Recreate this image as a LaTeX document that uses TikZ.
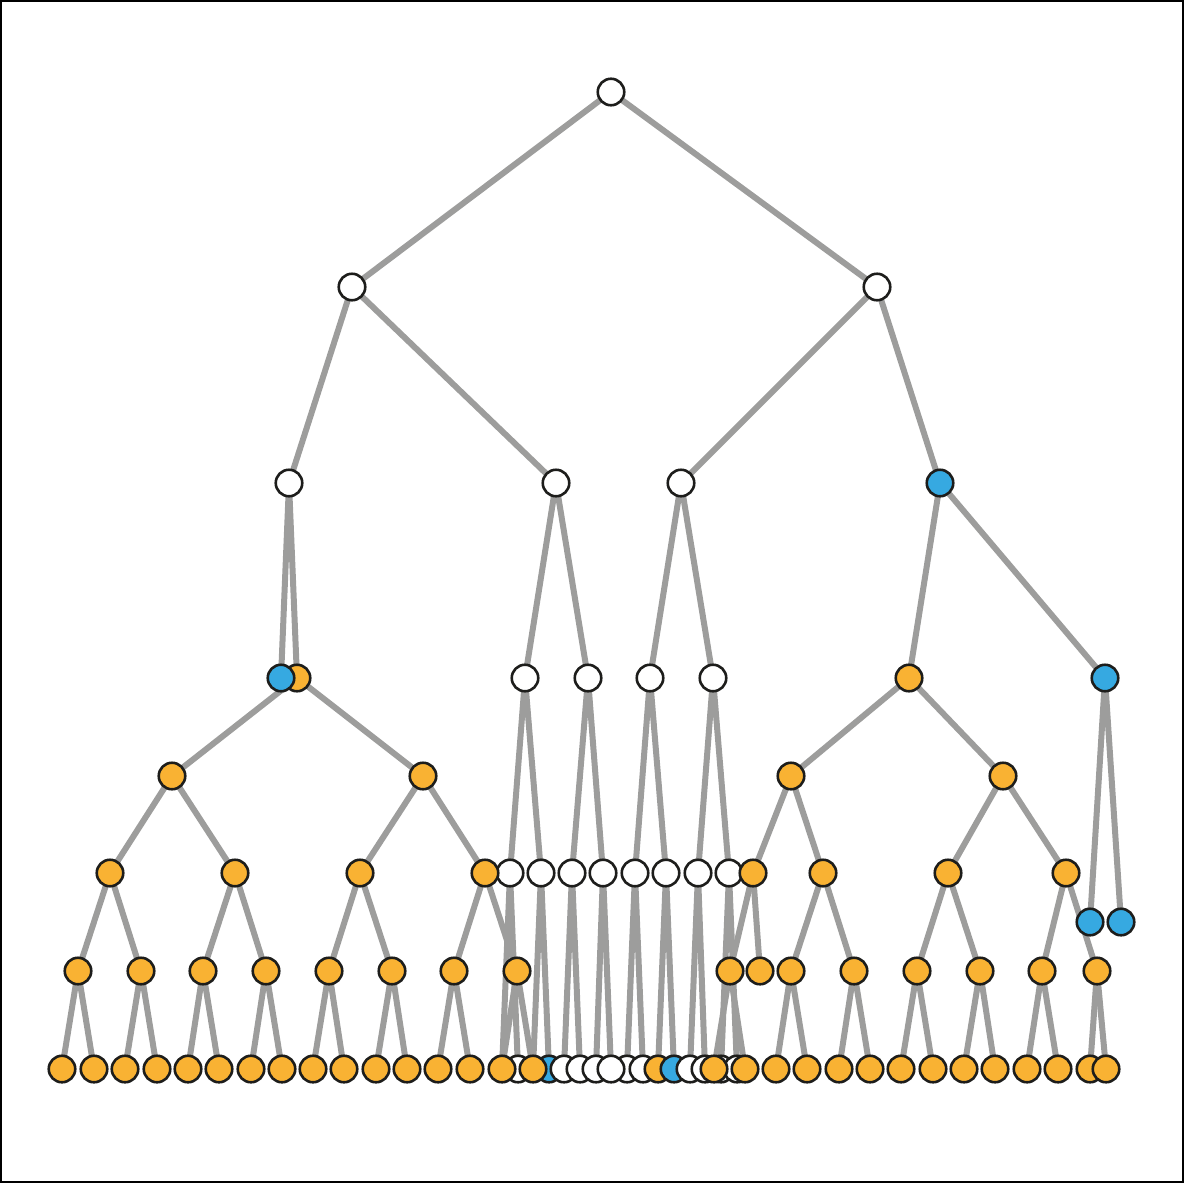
\documentclass[tikz,border=0pt]{standalone}
\usetikzlibrary{backgrounds}
\definecolor{orng}{HTML}{F9B233}
\definecolor{blu}{HTML}{36A9E1}
\definecolor{edgegray}{HTML}{9D9D9C}
\definecolor{ink}{HTML}{1D1D1B}
\tikzset{
  nd/.style={circle, draw=ink, line width=2.6pt, minimum size=26.5pt, inner sep=0pt, outer sep=0pt},
  wn/.style={nd, fill=white},
  on/.style={nd, fill=orng},
  bn/.style={nd, fill=blu},
  ed/.style={line width=6pt, draw=edgegray},
  frame/.style={draw=black, line width=2pt}
}
\begin{document}
\begin{tikzpicture}[x=1pt,y=-1pt]
\useasboundingbox (0,0) rectangle (1185,1184);
\draw[frame] (1,1) rectangle (1183,1182);
% upper levels
\node[wn] (r) at (611,92) {};
\node[wn] (a) at (352,287) {};
\node[wn] (b) at (877,287) {};
\node[wn] (aa) at (289,483) {};
\node[wn] (ab) at (556,483) {};
\node[wn] (ba) at (681,483) {};
\node[bn] (bb) at (940,483) {};
\node[on] (aao) at (297,678) {};
\node[bn] (aab) at (281,678) {};
\node[wn] (aba) at (525,678) {};
\node[wn] (abb) at (588,678) {};
\node[wn] (baa) at (650,678) {};
\node[wn] (bab) at (713,678) {};
\node[on] (bba) at (909,678) {};
\node[bn] (bbb) at (1105,678) {};
\node[bn] (bbbl) at (1090,922) {};
\node[bn] (bbbr) at (1121,922) {};
% level 776
\node[on] (p1) at (172,776) {};
\node[on] (p2) at (423,776) {};
\node[on] (q1) at (791,776) {};
\node[on] (q2) at (1003,776) {};
% level 873 white
\node[wn] (w1) at (510,873) {};
\node[wn] (w2) at (541,873) {};
\node[wn] (w3) at (572,873) {};
\node[wn] (w4) at (603,873) {};
\node[wn] (w5) at (635,873) {};
\node[wn] (w6) at (666,873) {};
\node[wn] (w7) at (698,873) {};
\node[wn] (w8) at (729,873) {};
% level 873 orange
\node[on] (p11) at (110,873) {};
\node[on] (p12) at (235,873) {};
\node[on] (p21) at (360,873) {};
\node[on] (p22) at (485,873) {};
\node[on] (q11) at (753,873) {};
\node[on] (q12) at (823,873) {};
\node[on] (q21) at (948,873) {};
\node[on] (q22) at (1066,873) {};
% level 971
\foreach \x in {78,141,203,266,329,392,454,517,730,760,791,854,917,980,1042,1097}
  \node[on] (m\x) at (\x,971) {};
% level 1069 white / blue / orange under white subtrees
\node[wn] (u518) at (518,1069) {};
\node[bn] (u549) at (549,1069) {};
\node[wn] (u564) at (564,1069) {};
\node[wn] (u580) at (580,1069) {};
\node[wn] (u596) at (596,1069) {};
\node[wn] (u627) at (627,1069) {};
\node[wn] (u611) at (611,1069) {};
\node[wn] (u643) at (643,1069) {};
\node[on] (u658) at (658,1069) {};
\node[bn] (u674) at (674,1069) {};
\node[wn] (u690) at (690,1069) {};
\node[wn] (u705) at (705,1069) {};
\node[wn] (u721) at (721,1069) {};
\node[wn] (u737) at (737,1069) {};
% level 1069 orange
\foreach \x in {62,94,125,157,188,219,251,282,313,344,376,407,438,470,502,533,714,745,776,807,839,870,901,933,964,995,1027,1058,1090,1106}
  \node[on] (n\x) at (\x,1069) {};
% edges
\begin{pgfonlayer}{background}
\foreach \p/\c in {r/a, r/b, a/aa, a/ab, b/ba, b/bb,
  aa/aab, aa/aao, ab/aba, ab/abb, ba/baa, ba/bab, bb/bba, bb/bbb, bbb/bbbl, bbb/bbbr,
  aao/p1, aao/p2, p1/p11, p1/p12, p2/p21, p2/p22,
  p11/m78, p11/m141, p12/m203, p12/m266, p21/m329, p21/m392, p22/m454, p22/m517,
  m78/n62, m78/n94, m141/n125, m141/n157, m203/n188, m203/n219, m266/n251, m266/n282,
  m329/n313, m329/n344, m392/n376, m392/n407, m454/n438, m454/n470, m517/n502, m517/n533,
  aba/w1, aba/w2, abb/w3, abb/w4, baa/w5, baa/w6, bab/w7, bab/w8,
  w1/n502, w1/u518, w2/n533, w2/u549, w3/u564, w3/u580, w4/u596, w4/u611,
  w5/u627, w5/u643, w6/u658, w6/u674, w7/u690, w7/u705, w8/u721, w8/u737,
  bba/q1, bba/q2, q1/q11, q1/q12, q2/q21, q2/q22,
  q11/m730, q11/m760, q12/m791, q12/m854, q21/m917, q21/m980, q22/m1042, q22/m1097,
  m730/n714, m730/n745, m791/n776, m791/n807, m854/n839, m854/n870,
  m917/n901, m917/n933, m980/n964, m980/n995, m1042/n1027, m1042/n1058, m1097/n1090, m1097/n1106}
  \draw[ed] (\p.center) -- (\c.center);
\end{pgfonlayer}
\end{tikzpicture}
\end{document}
